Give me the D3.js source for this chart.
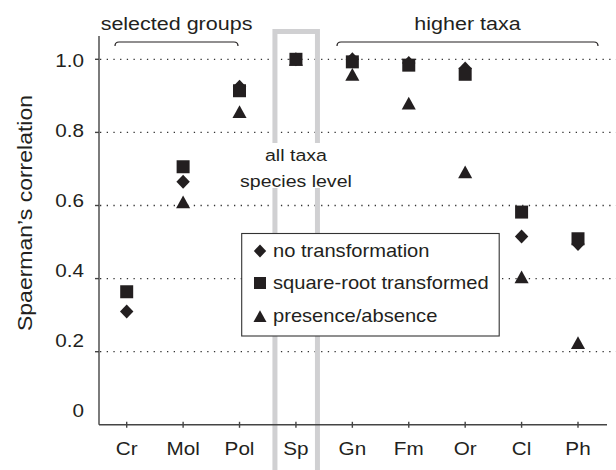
<!DOCTYPE html>
<html>
<head>
<meta charset="utf-8">
<script src="https://cdn.jsdelivr.net/npm/d3@7"></script>
<style>
body { margin: 0; background: #fff; }
svg { display: block; font-family: "Liberation Sans", Arial, sans-serif; }
</style>
</head>
<body>
<svg id="chart"></svg>
<script>
// groups along the x axis
var groups = ["Cr", "Mol", "Pol", "Sp", "Gn", "Fm", "Or", "Cl", "Ph"];
// spearman correlations
var noTransform   = [0.31, 0.665, 0.925, 1.0, 1.0, 0.99, 0.975, 0.515, 0.495];
var sqrtTransform = [0.364, 0.706, 0.914, 1.0, 0.993, 0.984, 0.959, 0.582, 0.509];
var presAbs       = [null, 0.61, 0.857, 1.0, 0.959, 0.88, 0.692, 0.405, 0.225];
var yTicks = [0, 0.2, 0.4, 0.6, 0.8, 1.0];
var yTickLabels = ["0", "0.2", "0.4", "0.6", "0.8", "1.0"];
var legendLabels = ["no transformation", "square-root transformed", "presence/absence"];

var width = 616, height = 470;
var ink = "#231f20";
var sx = 1.15; // text in the figure is a bit wide

var svg = d3.select("#chart").attr("width", width).attr("height", height);

var x = d3.scalePoint().domain(groups).range([126.7, 578]);
var y = d3.scaleLinear().domain([0, 1]).range([424.8, 59.3]);
// tick labels sit a little off the grid lines in the original
var yLab = d3.scaleLinear().domain([0, 1]).range([410, 60]);

function txt(g, px, py, s, size, anchor) {
  return g.append("text")
    .attr("transform", "translate(" + px + "," + py + ") scale(" + sx + ",1)")
    .attr("text-anchor", anchor || "middle")
    .style("font-size", size + "px")
    .attr("fill", ink)
    .text(s);
}

// dotted grid lines
svg.append("g").selectAll("line")
  .data(yTicks.filter(function(d){ return d > 0; }))
  .enter().append("line")
  .attr("x1", 100).attr("x2", width)
  .attr("y1", function(d){ return y(d); })
  .attr("y2", function(d){ return y(d); })
  .attr("stroke", "#333")
  .attr("stroke-width", 1.3)
  .attr("stroke-dasharray", "1.3,5.4");

// grey box around the species level column
var bx = x("Sp");
svg.append("rect")
  .attr("x", bx - 21).attr("y", 31.5)
  .attr("width", 42.5).attr("height", 470)
  .attr("fill", "none")
  .attr("stroke", "#d0d0d2")
  .attr("stroke-width", 5);

svg.append("rect")
  .attr("x", bx - 50).attr("y", 143)
  .attr("width", 100).attr("height", 45)
  .attr("fill", "#fff");
txt(svg, bx, 161, "all taxa", 17);
txt(svg, bx, 187, "species level", 17);

// axes
var axis = svg.append("g").attr("stroke", "#444").attr("stroke-width", 1.4);
axis.append("line").attr("x1", 99).attr("x2", 99).attr("y1", 36).attr("y2", y(0));
axis.append("line").attr("x1", 99).attr("x2", 607).attr("y1", y(0)).attr("y2", y(0));
axis.selectAll(".yt").data(yTicks.filter(function(d){ return d > 0; }))
  .enter().append("line")
  .attr("x1", 95).attr("x2", 99)
  .attr("y1", function(d){ return y(d); }).attr("y2", function(d){ return y(d); });
axis.selectAll(".xt").data(groups)
  .enter().append("line")
  .attr("x1", function(d){ return x(d); }).attr("x2", function(d){ return x(d); })
  .attr("y1", y(0) - 3).attr("y2", y(0) + 3);

yTicks.forEach(function(t, i){
  txt(svg, 84, yLab(t) + 6.5, yTickLabels[i], 18, "end");
});
groups.forEach(function(gname){
  txt(svg, x(gname), 455, gname, 18);
});

svg.append("text")
  .attr("transform", "translate(32,213) rotate(-90) scale(" + sx + ",1)")
  .attr("text-anchor", "middle")
  .style("font-size", "20px")
  .attr("fill", ink)
  .text("Spaerman\u2019s correlation");

// brackets
function bracket(a, b, label) {
  var yb = 42;
  svg.append("path")
    .attr("d", "M" + a + "," + (yb + 4) + " Q" + a + "," + yb + " " + (a + 4) + "," + yb +
      " L" + (b - 4) + "," + yb + " Q" + b + "," + yb + " " + b + "," + (yb + 4))
    .attr("fill", "none").attr("stroke", ink).attr("stroke-width", 1.2);
  txt(svg, (a + b) / 2, 30, label, 18.7);
}
bracket(115, 238, "selected groups");
bracket(337, 598, "higher taxa");

// symbols
var diamond = {
  draw: function(ctx, size) {
    var r = Math.sqrt(size) / 2;
    ctx.moveTo(0, -r * 1.05); ctx.lineTo(r, 0); ctx.lineTo(0, r * 1.05); ctx.lineTo(-r, 0); ctx.closePath();
  }
};
var tri = {
  draw: function(ctx, size) {
    var r = Math.sqrt(size) / 2;
    ctx.moveTo(0, -r * 0.95); ctx.lineTo(r * 1.05, r * 0.95); ctx.lineTo(-r * 1.05, r * 0.95); ctx.closePath();
  }
};
var series = [
  { name: legendLabels[0], values: noTransform, type: diamond, size: 180 },
  { name: legendLabels[1], values: sqrtTransform, type: d3.symbolSquare, size: 169 },
  { name: legendLabels[2], values: presAbs, type: tri, size: 180 }
];

series.forEach(function(s){
  var pts = groups.map(function(gname, i){ return { g: gname, v: s.values[i] }; })
    .filter(function(d){ return d.v != null; });
  svg.append("g").selectAll("path").data(pts).enter().append("path")
    .attr("d", d3.symbol().type(s.type).size(s.size))
    .attr("transform", function(d){ return "translate(" + x(d.g) + "," + y(d.v) + ")"; })
    .attr("fill", ink);
});

// legend
var lg = svg.append("g");
lg.append("rect")
  .attr("x", 241.7).attr("y", 233.5).attr("width", 257.5).attr("height", 102.5)
  .attr("fill", "#fff").attr("stroke", "#333").attr("stroke-width", 1.1);
var ly = [251, 283, 316];
series.forEach(function(s, i){
  lg.append("path")
    .attr("d", d3.symbol().type(s.type).size(s.size * 0.85))
    .attr("transform", "translate(260," + ly[i] + ")")
    .attr("fill", ink);
  txt(lg, 273, ly[i] + 6, s.name, 17.5, "start");
});
</script>
</body>
</html>
